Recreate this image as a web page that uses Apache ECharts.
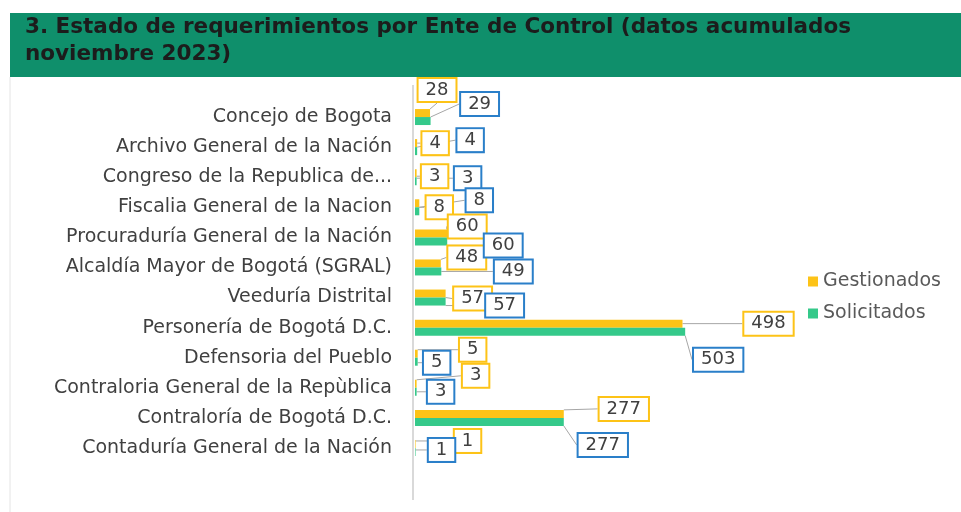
<!DOCTYPE html>
<html>
<head>
<meta charset="utf-8">
<script src="https://cdn.jsdelivr.net/npm/echarts@6/dist/echarts.min.js"></script>
<style>
  html, body { margin: 0; padding: 0; background: #fff; }
  #chart1 { width: 961px; height: 512px; }
</style>
</head>
<body>
<div id="chart1"></div>
<script>
var entes = [
  'Concejo de Bogota',
  'Archivo General de la Nación',
  'Congreso de la Republica de...',
  'Fiscalia General de la Nacion',
  'Procuraduría General de la Nación',
  'Alcaldía Mayor de Bogotá (SGRAL)',
  'Veeduría Distrital',
  'Personería de Bogotá D.C.',
  'Defensoria del Pueblo',
  'Contraloria General de la Repùblica',
  'Contraloría de Bogotá D.C.',
  'Contaduría General de la Nación'
];
var gestionados = [28, 4, 3, 8, 60, 48, 57, 498, 5, 3, 277, 1];
var solicitados = [29, 4, 3, 8, 60, 49, 57, 503, 5, 3, 277, 1];

// where each label box sits, relative to the end of its bar (layout only)
var offGest = [[7,-27],[18,-4],[18,-1],[20,0],[20,-11],[26,-10],[27,1],[86,-4],[55,-8],[59,-12],[60,-9],[52,-7]];
var offSoli = [[49,-13],[53,-7],[51,1],[60,-7],[56,8],[72,4],[59,8],[33,32],[19,5],[24,4],[39,27],[26,2]];

var chartDom = document.getElementById('chart1');
var myChart = echarts.init(chartDom);
var option;

function boxLabel(color) {
  return {
    show: true,
    position: 'right',
    fontFamily: 'DejaVu Sans',
    fontSize: 18,
    color: '#404040',
    backgroundColor: '#fff',
    borderColor: color,
    borderWidth: 2,
    padding: [2, 7, 2, 7]
  };
}

function placeLabel(params) {
  var r = params.rect, lr = params.labelRect;
  var gest = params.seriesIndex === 0;
  var off = (gest ? offGest : offSoli)[params.dataIndex];
  var endX = r.x + r.width;
  var catY = r.y + r.height / 2 + (gest ? 4 : -4);
  var tx = endX + off[0], ty = catY + off[1];
  return {
    dx: tx - (lr.x + lr.width / 2),
    dy: ty - (lr.y + lr.height / 2)
  };
}

option = {
  animation: false,
  graphic: [
    { type: 'rect', shape: { x: 10, y: 13, width: 951, height: 64 }, style: { fill: '#0f8f6b' } },
    { type: 'line', shape: { x1: 10, y1: 77, x2: 10, y2: 512 }, style: { stroke: '#e4e4e4', lineWidth: 1 } },
    { type: 'line', shape: { x1: 413, y1: 85, x2: 413, y2: 500 }, style: { stroke: '#d9d9d9', lineWidth: 2 } },
    {
      type: 'text', left: 25, top: 14,
      style: {
        text: '3. Estado de requerimientos por Ente de Control (datos acumulados\nnoviembre 2023)',
        fill: '#1c1c1c',
        font: 'bold 21.5px "DejaVu Sans"',
        lineHeight: 27
      }
    }
  ],
  legend: {
    orient: 'vertical',
    left: 803,
    top: 267,
    itemGap: 13,
    icon: 'rect',
    itemWidth: 10,
    itemHeight: 10,
    data: ['Gestionados', 'Solicitados'],
    textStyle: { fontFamily: 'DejaVu Sans', fontSize: 19, color: '#595959' }
  },
  grid: { left: 415, top: 102, width: 376, height: 361 },
  xAxis: { type: 'value', min: 0, max: 700, show: false },
  yAxis: {
    type: 'category',
    inverse: true,
    data: entes,
    axisLine: { show: false },
    axisTick: { show: false },
    axisLabel: { fontFamily: 'DejaVu Sans', fontSize: 19, color: '#404040', margin: 23 }
  },
  series: [
    {
      name: 'Gestionados',
      type: 'bar',
      data: gestionados,
      barWidth: 8,
      barGap: '0%',
      itemStyle: { color: '#fdc317' },
      label: boxLabel('#fdc317'),
      labelLine: { show: true, lineStyle: { color: '#a6a6a6', width: 1 } },
      labelLayout: placeLabel
    },
    {
      name: 'Solicitados',
      type: 'bar',
      data: solicitados,
      barWidth: 8,
      itemStyle: { color: '#35c98a' },
      label: boxLabel('#2a7fc9'),
      labelLine: { show: true, lineStyle: { color: '#a6a6a6', width: 1 } },
      labelLayout: placeLabel
    }
  ]
};

option && myChart.setOption(option);
window.onresize = function() {
  myChart.resize();
};
</script>
</body>
</html>
